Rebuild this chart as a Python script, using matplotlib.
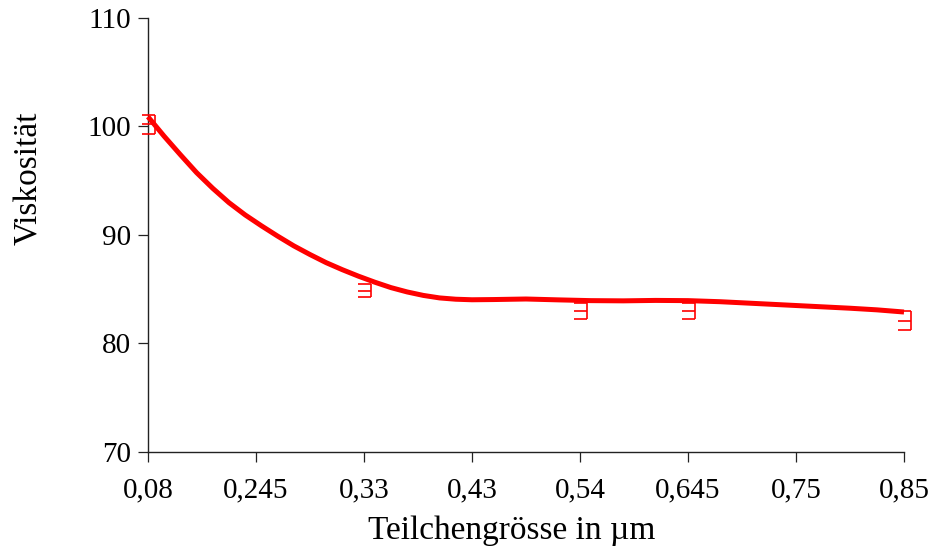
import numpy as np
import matplotlib
matplotlib.use('Agg')
import matplotlib.pyplot as plt

plt.rcParams['font.family'] = ['Liberation Serif', 'DejaVu Serif']

# x axis categories (equally spaced ticks)
tick_labels = ['0,08', '0,245', '0,33', '0,43', '0,54', '0,645', '0,75', '0,85']

# measured points (category index, mean, error)
pt_idx = [0, 2, 4, 5, 7]
pt_mean = [100.2, 84.85, 83.0, 83.0, 82.1]
pt_err = [0.9, 0.6, 0.73, 0.73, 0.9]

# smooth fitted curve (position in category units)
curve_pos = [0.0, 0.15, 0.3, 0.45, 0.6, 0.75, 0.9, 1.05, 1.2, 1.35, 1.5,
             1.65, 1.8, 1.95, 2.1, 2.25, 2.4, 2.55, 2.7, 2.85, 3.0, 3.2,
             3.5, 3.8, 4.1, 4.4, 4.7, 5.0, 5.3, 5.6, 5.9, 6.2, 6.5, 6.75, 7.0]
curve_val = [100.9, 99.1, 97.4, 95.75, 94.3, 92.98, 91.85, 90.85, 89.9, 89.0,
             88.2, 87.45, 86.8, 86.2, 85.65, 85.15, 84.75, 84.43, 84.2, 84.08,
             84.03, 84.05, 84.1, 84.02, 83.95, 83.93, 83.97, 83.95, 83.85,
             83.7, 83.55, 83.4, 83.25, 83.1, 82.9]

fig = plt.figure(figsize=(9.4, 5.5), dpi=100)
ax = fig.add_axes([0.1574, 0.1782, 0.8043, 0.7891])

ax.plot(curve_pos, curve_val, color='#ff0000', lw=3.6, solid_capstyle='butt',
        solid_joinstyle='round', clip_on=False, zorder=3)

# half error bars: vertical line a bit right of the point, caps to the left
off = 0.068
cap = 0.12
x = np.array(pt_idx) + off
m = np.array(pt_mean)
e = np.array(pt_err)
ax.vlines(x, m - e, m + e, color='#ff0000', lw=1.2, clip_on=False, zorder=4)
for yy in (m - e, m, m + e):
    ax.hlines(yy, x - cap, x, color='#ff0000', lw=1.2, clip_on=False, zorder=4)

ax.set_xlim(0, 7)
ax.set_ylim(70, 110)
ax.set_xticks(range(len(tick_labels)))
ax.set_xticklabels(tick_labels)
ax.set_yticks([70, 80, 90, 100, 110])

for s in ['top', 'right']:
    ax.spines[s].set_visible(False)
for s in ['left', 'bottom']:
    ax.spines[s].set_color('#222222')
    ax.spines[s].set_linewidth(1.0)
ax.tick_params(direction='out', length=7, width=0.9, color='#222222',
               labelsize=21)
ax.tick_params(axis='y', pad=5)
ax.tick_params(axis='x', pad=11)

ax.set_xlabel('Teilchengrösse in µm', fontsize=24, labelpad=9)
ax.set_ylabel('Viskosität', fontsize=24, labelpad=31)
ax.xaxis.label.set_x(0.481)
ax.yaxis.label.set_y(0.63)

fig.savefig('out.png', dpi=100)
